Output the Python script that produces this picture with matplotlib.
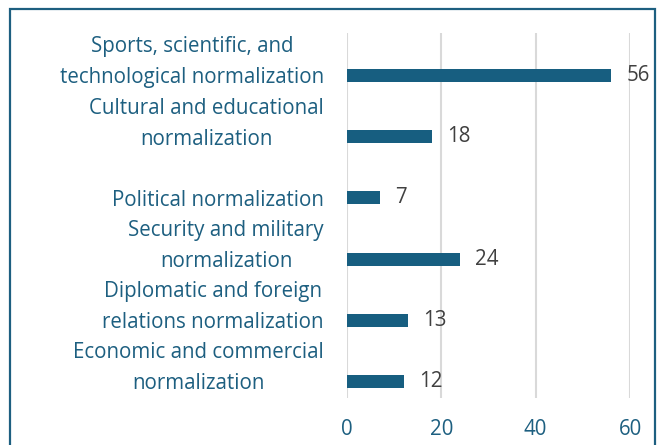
import matplotlib.pyplot as plt
import matplotlib.transforms as mtransforms
from matplotlib.patches import Rectangle

# Data (top to bottom)
categories = [
    'Sports, scientific, and\ntechnological normalization',
    'Cultural and educational\nnormalization',
    'Political normalization',
    'Security and military\nnormalization',
    'Diplomatic and foreign\nrelations normalization',
    'Economic and commercial\nnormalization',
]
values = [56, 18, 7, 24, 13, 12]
x_ticks = [0, 20, 40, 60]

teal = '#1d5f80'
bar_color = '#175e80'
grey_txt = '#404040'
fs = 14.8

plt.rcParams['font.family'] = ['Open Sans', 'DejaVu Sans']

fig = plt.figure(figsize=(6.66, 4.45), dpi=100)
W, H = 666, 445
ax = fig.add_axes([347 / W, 1 - 398 / H, (630 - 347) / W, (398 - 33) / H])

pos = list(range(len(categories)))
ax.barh(pos, values, height=0.21, color=bar_color, zorder=3)
ax.set_ylim(5.27, -0.694)
ax.set_xlim(0, 60)

# Value labels
for p, v in zip(pos, values):
    ax.annotate(str(v), (v, p), xytext=(11, 0), textcoords='offset points',
                ha='left', va='center', fontsize=fs, color=grey_txt)

# Category labels: last line sits at the bar
trans = mtransforms.blended_transform_factory(ax.transAxes, ax.transData)
trans = trans + mtransforms.ScaledTranslation(-23 / 100, -8 / 100, fig.dpi_scale_trans)
for p, c in zip(pos, categories):
    ax.text(0, p, c, transform=trans, ha='right', va='baseline',
            multialignment='center', fontsize=fs, color=teal, linespacing=1.63)

ax.set_yticks([])
ax.set_xticks(x_ticks)
ax.tick_params(axis='x', length=0, pad=15, labelsize=fs, labelcolor=teal)
ax.grid(axis='x', color='#d9d9d9', linewidth=1.5, zorder=0)
for s in ax.spines.values():
    s.set_visible(False)

# Frame around the chart
fig.patches.append(Rectangle((10 / W, -0.05), (655 - 10) / W, 1.05 - 9 / H,
                             transform=fig.transFigure, fill=False,
                             edgecolor=teal, linewidth=1.6))

fig.savefig('out.png', dpi=100)
